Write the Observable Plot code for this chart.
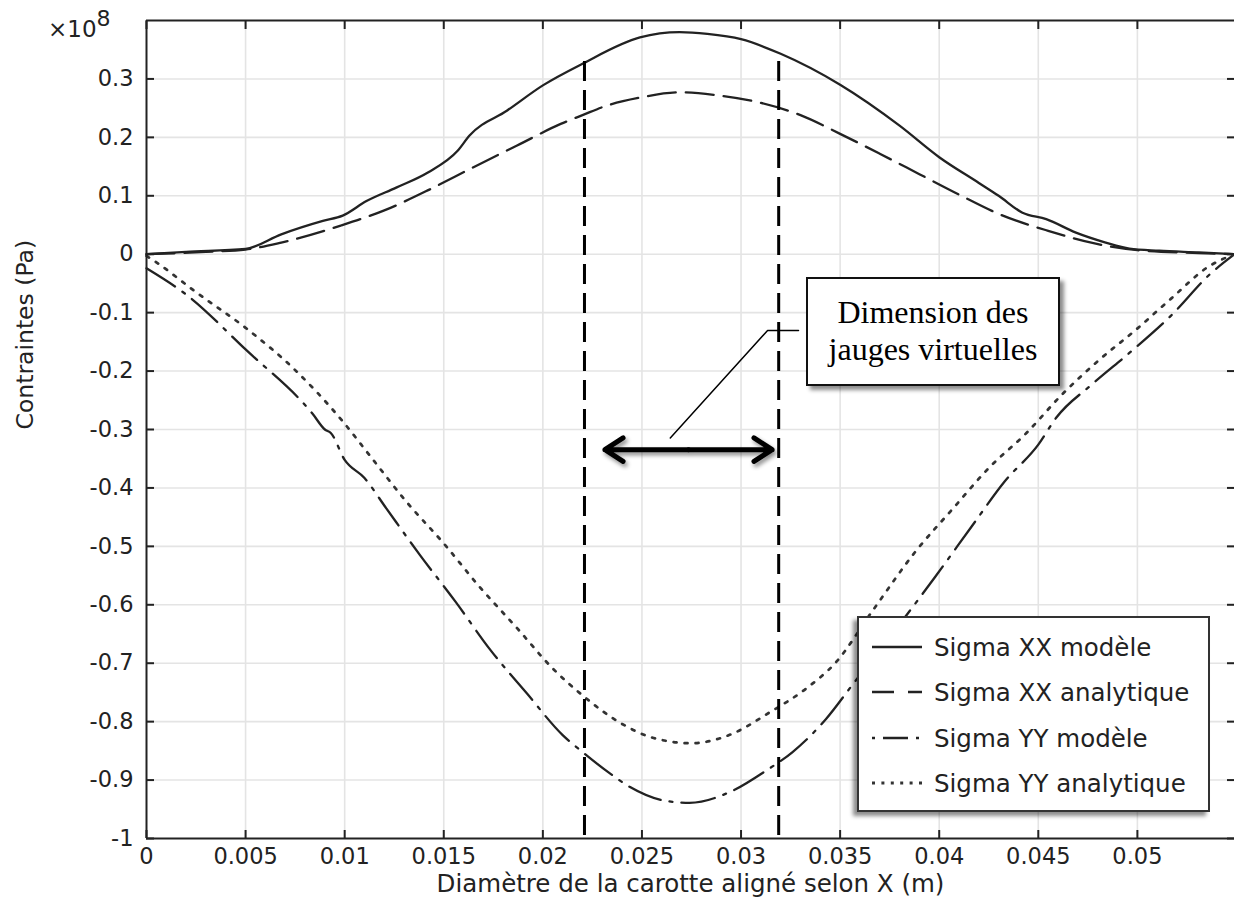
<!DOCTYPE html>
<html><head><meta charset="utf-8">
<script src="https://cdn.jsdelivr.net/npm/d3@7"></script>
<script src="https://cdn.jsdelivr.net/npm/@observablehq/plot@0.6"></script>
<style>
body{margin:0;background:#fff;}
#wrap{position:relative;width:1234px;height:905px;overflow:hidden;font-family:"DejaVu Sans",sans-serif;color:#222;}
#wrap svg{position:absolute;left:0;top:0;}
.legend{position:absolute;background:#fff;border:2.5px solid #333;box-shadow:-4px 4px 4px rgba(0,0,0,.45);box-sizing:border-box;}
.legend .row{position:absolute;left:0;height:40px;display:flex;align-items:center;font-size:24.5px;white-space:nowrap;}
.legend svg{position:static !important;margin-left:13px;margin-right:12px;}
.anno{position:absolute;background:#fff;border:2.5px solid #111;box-shadow:4px 4px 4px rgba(0,0,0,.45);box-sizing:border-box;display:flex;flex-direction:column;align-items:center;justify-content:center;font-family:"Liberation Serif","Times New Roman",serif;font-size:32px;line-height:37px;color:#000;}
.expo{position:absolute;font-size:23px;line-height:27px;}
</style></head>
<body><div id="wrap"></div>
<script>
// ---- data (stress in units of 1e8 Pa, position in m) ----
const sxxModelX = [0,0.002,0.005,0.0068,0.0089,0.0099,0.0111,0.0126,0.0142,0.0157,0.0163,0.0182,0.020,0.022,0.0249,0.0269,0.0283,0.030,0.032,0.035,0.038,0.040,0.042,0.043,0.0442,0.0454,0.0469,0.0484,0.0496,0.0511,0.0531,0.0549];
const sxxModelY = [0,0.004,0.009,0.034,0.057,0.066,0.091,0.114,0.140,0.177,0.203,0.246,0.289,0.326,0.371,0.380,0.377,0.368,0.343,0.290,0.220,0.166,0.122,0.100,0.071,0.060,0.037,0.020,0.0096,0.006,0.003,0];
const sxxAnaX = [0,0.003,0.005,0.0068,0.0098,0.012,0.0143,0.0165,0.0187,0.0209,0.022,0.0232,0.0249,0.0269,0.0289,0.031,0.033,0.035,0.037,0.039,0.041,0.043,0.0455,0.0479,0.050,0.0531,0.0549];
const sxxAnaY = [0,0.004,0.008,0.020,0.049,0.075,0.111,0.149,0.186,0.223,0.238,0.254,0.268,0.277,0.2715,0.259,0.238,0.206,0.172,0.137,0.102,0.069,0.040,0.018,0.007,0.002,0];
const syyModelX = [0,0.002,0.005,0.0084,0.0090,0.0093,0.0100,0.0110,0.0121,0.0138,0.0156,0.0173,0.0192,0.0210,0.0220,0.0234,0.0244,0.0261,0.0274,0.0294,0.0313,0.0326,0.0343,0.0356,0.0383,0.0398,0.0417,0.0433,0.0450,0.0459,0.0477,0.0497,0.0517,0.0537,0.0549];
const syyModelY = [-0.024,-0.069,-0.163,-0.274,-0.300,-0.306,-0.352,-0.383,-0.435,-0.515,-0.595,-0.675,-0.752,-0.823,-0.852,-0.889,-0.912,-0.935,-0.939,-0.921,-0.883,-0.852,-0.795,-0.738,-0.620,-0.552,-0.463,-0.389,-0.326,-0.280,-0.223,-0.166,-0.105,-0.033,0];
const syyAnaX = [0,0.0005,0.0025,0.005,0.0074,0.0099,0.0113,0.0131,0.0150,0.0168,0.0187,0.0205,0.0220,0.0240,0.0254,0.0275,0.0294,0.0315,0.0333,0.0348,0.0366,0.0388,0.0407,0.0425,0.0444,0.0462,0.0480,0.0499,0.0517,0.0536,0.0549];
const syyAnaY = [-0.003,-0.014,-0.065,-0.126,-0.195,-0.286,-0.346,-0.423,-0.495,-0.569,-0.640,-0.709,-0.755,-0.804,-0.826,-0.837,-0.823,-0.783,-0.743,-0.698,-0.612,-0.509,-0.435,-0.366,-0.306,-0.240,-0.183,-0.130,-0.076,-0.021,0];

const seriesNames = ["Sigma XX modèle","Sigma XX analytique","Sigma YY modèle","Sigma YY analytique"];
const xTicks = [0,0.005,0.01,0.015,0.02,0.025,0.03,0.035,0.04,0.045,0.05];
const xTickLabels = ["0","0.005","0.01","0.015","0.02","0.025","0.03","0.035","0.04","0.045","0.05"];
const yTicks = [0.3,0.2,0.1,0,-0.1,-0.2,-0.3,-0.4,-0.5,-0.6,-0.7,-0.8,-0.9,-1];
const yTickLabels = ["0.3","0.2","0.1","0","-0.1","-0.2","-0.3","-0.4","-0.5","-0.6","-0.7","-0.8","-0.9","-1"];
const xDomain = [0,0.0549];
const yDomain = [-1,0.4];
const xLabel = "Diamètre de la carotte aligné selon X (m)";
const yLabel = "Contraintes (Pa)";
const expoBase = "×10", expoPow = "8";

// annotations
const gaugeX = [0.0221,0.0319];
const gaugeTop = 0.33;
const arrowXs = [0.02313,0.03157];
const arrowY = -0.3345;
const leaderX = [0.02643,0.03134,0.0329];
const leaderY = [-0.3146,-0.1304,-0.1304];
const annoBox = {x1:0.03329,x2:0.04613,y1:-0.039,y2:-0.226};
const annoLines = ["Dimension des","jauges virtuelles"];

// ---- build ----
const mk = (xs,ys)=>xs.map((x,i)=>({x,y:ys[i]}));
const dXXm = mk(sxxModelX,sxxModelY), dXXa = mk(sxxAnaX,sxxAnaY), dYYm = mk(syyModelX,syyModelY), dYYa = mk(syyAnaX,syyAnaY);
const xFmt = new Map(xTicks.map((v,i)=>[v,xTickLabels[i]]));
const yFmt = new Map(yTicks.map((v,i)=>[v,yTickLabels[i]]));
const lineStyle = {x:"x",y:"y",stroke:"#222",strokeWidth:2.3,curve:"monotone-x"};
const arrowMid = (arrowXs[0]+arrowXs[1])/2;
const arrowData = arrowXs.map(x=>({x1:arrowMid,x2:x,y:arrowY}));
const leader = leaderX.map((x,i)=>({x,y:leaderY[i]}));

const plot = Plot.plot({
  width:1234, height:905,
  marginLeft:146, marginRight:0, marginTop:20, marginBottom:67,
  x:{domain:xDomain},
  y:{domain:yDomain},
  style:{fontFamily:"DejaVu Sans",fontSize:"23px",color:"#222",background:"transparent",overflow:"visible"},
  marks:[
    Plot.gridX(xTicks.filter(d=>d>0),{stroke:"#e4e4e4",strokeOpacity:1,strokeWidth:1.6}),
    Plot.gridY(yTicks.filter(d=>d>-1),{stroke:"#e4e4e4",strokeOpacity:1,strokeWidth:1.6}),
    Plot.line(dXXm,{...lineStyle}),
    Plot.line(dXXa,{...lineStyle,strokeDasharray:"28,10"}),
    Plot.line(dYYm,{...lineStyle,strokeDasharray:"34,9,3,9"}),
    Plot.line(dYYa,{...lineStyle,strokeWidth:2.7,strokeDasharray:"3,8",stroke:"#333"}),
    Plot.ruleX(gaugeX,{y1:gaugeTop,y2:yDomain[0],stroke:"#000",strokeWidth:3,strokeDasharray:"20,9"}),
    Plot.arrow(arrowData,{x1:"x1",y1:"y",x2:"x2",y2:"y",stroke:"#000",strokeWidth:5,headLength:6.5,headAngle:66}),
    Plot.line(leader,{x:"x",y:"y",stroke:"#000",strokeWidth:1.5}),
    Plot.ruleX([xDomain[0]],{stroke:"#222",strokeWidth:2}),
    Plot.ruleY([yDomain[0],yDomain[1]],{stroke:"#222",strokeWidth:2}),
    Plot.axisX(xTicks,{anchor:"bottom",tickSize:-8,tickFormat:()=>"",label:null,strokeWidth:2}),
    Plot.axisX(xTicks,{anchor:"top",tickSize:-8,tickFormat:()=>"",label:null,strokeWidth:2}),
    Plot.axisY(yTicks,{anchor:"left",tickSize:-8,tickFormat:()=>"",label:null,strokeWidth:2}),
    Plot.axisY(yTicks,{anchor:"right",tickSize:-8,tickFormat:()=>"",label:null,strokeWidth:2}),
    Plot.axisX(xTicks,{anchor:"bottom",tickSize:0,tickPadding:10,tickFormat:d=>xFmt.get(d),label:null,fill:"#222",fontSize:22.5}),
    Plot.axisY(yTicks,{anchor:"left",tickSize:0,tickPadding:13,tickFormat:d=>yFmt.get(d),label:null,fill:"#222",fontSize:22.5}),
    Plot.text([xLabel],{frameAnchor:"bottom",dy:53,fontSize:24.5,fill:"#222"}),
    Plot.text([yLabel],{frameAnchor:"left",dx:-121,rotate:-90,fontSize:23.5,fill:"#222"})
  ]
});
const wrap = document.getElementById("wrap");
wrap.appendChild(plot);
plot.querySelectorAll('g[aria-label="arrow"]').forEach(g=>g.style.filter="drop-shadow(2px 3px 2px rgba(0,0,0,0.45))");

const sx = plot.scale("x"), sy = plot.scale("y");
// exponent label
const ex = document.createElement("div");
ex.className="expo"; ex.style.left="48px"; ex.style.top="16px";
ex.innerHTML = `${expoBase}<span style="position:relative;top:-11px;font-size:22px;">${expoPow}</span>`;
wrap.appendChild(ex);

// annotation box
const ab = document.createElement("div");
ab.className="anno";
const L = sx.apply(annoBox.x1), R = sx.apply(annoBox.x2), T = sy.apply(annoBox.y1), B = sy.apply(annoBox.y2);
Object.assign(ab.style,{left:L+"px",top:T+"px",width:(R-L)+"px",height:(B-T)+"px"});
annoLines.forEach(t=>{const d=document.createElement("div");d.textContent=t;ab.appendChild(d);});
wrap.appendChild(ab);

// legend
const lg = document.createElement("div");
lg.className="legend";
Object.assign(lg.style,{left:"857px",top:"616px",width:"353px",height:"196px"});
const rowTops = [9,54,100,145];
const samples = [
  `<line x1="0" y1="10" x2="50" y2="10" stroke="#222" stroke-width="2.6"/>`,
  `<line x1="0" y1="10" x2="50" y2="10" stroke="#222" stroke-width="2.6" stroke-dasharray="22,14"/>`,
  `<line x1="0" y1="10" x2="50" y2="10" stroke="#222" stroke-width="2.6" stroke-dasharray="3,8,25,8,3,20"/>`,
  `<line x1="0" y1="10" x2="50" y2="10" stroke="#333" stroke-width="2.8" stroke-dasharray="3,6.4"/>`
];
seriesNames.forEach((n,i)=>{
  const r=document.createElement("div");r.className="row";r.style.top=rowTops[i]+"px";
  r.innerHTML=`<svg width="50" height="20">${samples[i]}</svg><span>${n}</span>`;
  lg.appendChild(r);
});
wrap.appendChild(lg);
</script></body></html>
